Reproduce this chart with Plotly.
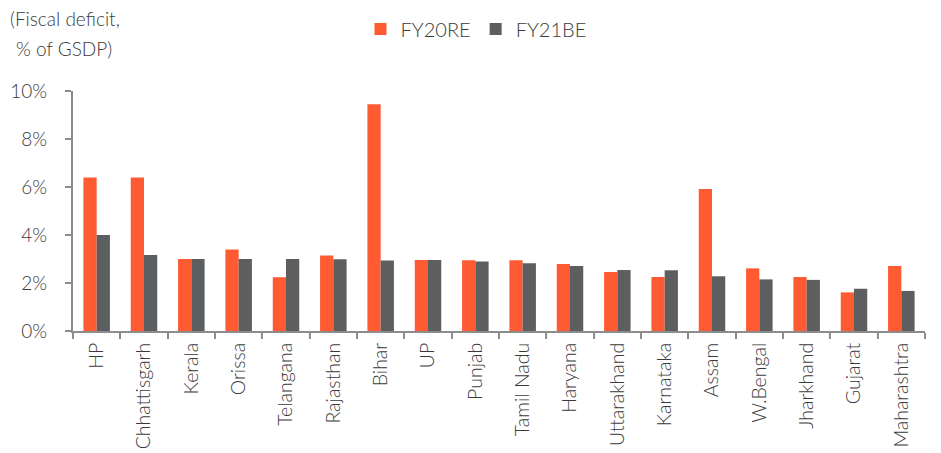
import plotly.graph_objects as go

states = ["HP", "Chhattisgarh", "Kerala", "Orissa", "Telangana", "Rajasthan", "Bihar", "UP",
          "Punjab", "Tamil Nadu", "Haryana", "Uttarakhand", "Karnataka", "Assam", "W.Bengal",
          "Jharkhand", "Gujarat", "Maharashtra"]
fy20re = [6.40, 6.40, 3.00, 3.40, 2.24, 3.15, 9.45, 2.96, 2.95, 2.95, 2.79, 2.46, 2.25, 5.92,
          2.61, 2.25, 1.61, 2.71]
fy21be = [4.00, 3.17, 3.00, 3.00, 3.00, 2.99, 2.94, 2.96, 2.90, 2.82, 2.71, 2.54, 2.53, 2.28,
          2.15, 2.13, 1.76, 1.67]
y_ticks = [0, 2, 4, 6, 8, 10]
y_ticklabels = ["0%", "2%", "4%", "6%", "8%", "10%"]

ORANGE = "#FF5B33"
GREY = "#5D5E60"
TEXT = "#3a3a3a"
AXIS = "#8c8c8c"
FONT = "Lato"

fig = go.Figure()
fig.add_trace(go.Bar(x=states, y=fy20re, name="FY20RE", marker=dict(color=ORANGE, line=dict(width=0))))
fig.add_trace(go.Bar(x=states, y=fy21be, name="FY21BE", marker=dict(color=GREY, line=dict(width=0))))

fig.update_layout(
    width=933, height=445,
    margin=dict(l=65, r=16, t=83, b=122, autoexpand=False),
    paper_bgcolor="white", plot_bgcolor="white",
    barmode="group", bargap=0.44, bargroupgap=0,
    font=dict(family=FONT, size=18, color=TEXT, weight=300),
    showlegend=True,
    legend=dict(orientation="h", x=0.473, xanchor="center", y=1.258, yanchor="middle",
                font=dict(size=20, color=TEXT, weight=300), traceorder="normal",
                bgcolor="rgba(0,0,0,0)"),
    annotations=[
        dict(text="(Fiscal deficit,", xref="paper", yref="paper",
             x=-0.0763, y=1.304, xanchor="left", yanchor="middle", align="left",
             showarrow=False, font=dict(size=19, color=TEXT, weight=300)),
        dict(text="% of GSDP)", xref="paper", yref="paper",
             x=-0.0693, y=1.179, xanchor="left", yanchor="middle", align="left",
             showarrow=False, font=dict(size=19, color=TEXT, weight=300)),
    ],
)
fig.update_xaxes(
    tickmode="array", tickvals=states, ticktext=states,
    showline=True, linecolor=AXIS, linewidth=2,
    ticks="outside", tickson="boundaries", ticklen=6, tickcolor=AXIS, tickwidth=2,
    tickangle=-90, tickfont=dict(size=19.5, color=TEXT, weight=300), showgrid=False,
    ticklabelstandoff=2,
)
fig.update_yaxes(
    range=[0, 10], tickvals=y_ticks, ticktext=y_ticklabels,
    showline=True, linecolor=AXIS, linewidth=2,
    ticks="outside", ticklen=6, tickcolor=AXIS, tickwidth=2,
    showgrid=False, zeroline=False, tickfont=dict(size=19, color=TEXT, weight=300),
    ticklabelstandoff=14,
)

fig.write_html("out.html")
